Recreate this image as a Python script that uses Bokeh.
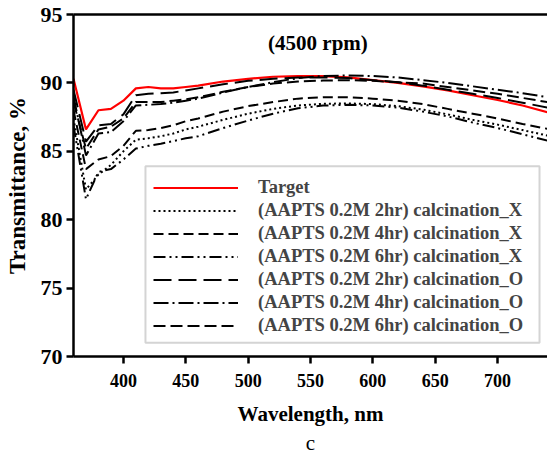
from bokeh.plotting import figure
from bokeh.models import (Range1d, FixedTicker, LinearAxis, Label, Legend, LegendItem, Title,
                          BoxAnnotation)
from bokeh.embed import file_html
from bokeh.resources import INLINE

wavelength = [360, 370, 380, 390, 400, 410, 420, 430, 440, 450, 460, 480, 500, 520, 540,
              560, 580, 600, 620, 640, 660, 680, 700, 720, 740]

target = [90.3, 86.6, 88.0, 88.1, 88.7, 89.6, 89.7, 89.6, 89.6, 89.7, 89.8, 90.1, 90.3, 90.45, 90.5,
          90.5, 90.4, 90.2, 90.0, 89.75, 89.45, 89.1, 88.75, 88.35, 87.85]

x_2hr = [87.4, 82.2, 83.3, 84.0, 85.0, 85.85, 85.95, 86.1, 86.3, 86.6, 86.8, 87.3, 87.75, 88.1, 88.35,
         88.47, 88.5, 88.45, 88.3, 88.05, 87.7, 87.3, 86.95, 86.55, 86.15]
x_4hr = [88.0, 83.7, 84.4, 84.65, 85.4, 86.5, 86.55, 86.7, 86.9, 87.2, 87.4, 87.9, 88.3, 88.6, 88.85,
         88.96, 88.95, 88.85, 88.7, 88.45, 88.1, 87.75, 87.4, 87.0, 86.64]
x_6hr = [86.9, 81.5, 83.5, 83.7, 84.4, 85.2, 85.4, 85.55, 85.75, 85.95, 86.1, 86.7, 87.25, 87.75, 88.15,
         88.34, 88.4, 88.35, 88.2, 87.9, 87.55, 87.1, 86.7, 86.25, 85.78]
o_2hr = [89.5, 85.7, 86.9, 87.0, 87.7, 89.1, 89.2, 89.25, 89.3, 89.45, 89.6, 89.9, 90.15, 90.3, 90.4,
         90.4, 90.35, 90.2, 90.05, 89.8, 89.5, 89.2, 88.9, 88.55, 88.2]
o_4hr = [89.0, 84.7, 86.3, 86.4, 87.2, 88.35, 88.4, 88.45, 88.55, 88.7, 88.85, 89.3, 89.7, 90.05, 90.35,
         90.5, 90.55, 90.5, 90.4, 90.2, 90.0, 89.75, 89.5, 89.25, 88.95]
o_6hr = [88.6, 85.2, 86.6, 86.8, 87.4, 88.6, 88.6, 88.6, 88.7, 88.8, 88.95, 89.35, 89.7, 89.95, 90.1,
         90.17, 90.2, 90.15, 90.05, 89.95, 89.7, 89.45, 89.2, 88.9, 88.6]

labels = ["Target",
          "(AAPTS 0.2M 2hr) calcination_X",
          "(AAPTS 0.2M 4hr) calcination_X",
          "(AAPTS 0.2M 6hr) calcination_X",
          "(AAPTS 0.2M 2hr) calcination_O",
          "(AAPTS 0.2M 4hr) calcination_O",
          "(AAPTS 0.2M 6hr) calcination_O"]
x_ticks = [400, 450, 500, 550, 600, 650, 700]
y_ticks = [70, 75, 80, 85, 90, 95]

FONT = "Liberation Serif"

p = figure(width=547, height=462, x_range=Range1d(360, 740), y_range=Range1d(70, 95),
           min_border_left=73, min_border_right=0, min_border_top=14, min_border_bottom=106,
           output_backend="svg", toolbar_location=None)
p.outline_line_color = None
p.xgrid.visible = False
p.ygrid.visible = False

for ax in (p.xaxis[0], p.yaxis[0]):
    ax.axis_line_width = 2.5
    ax.major_tick_line_width = 2.5
    ax.major_tick_in = 0
    ax.major_tick_out = 7
    ax.minor_tick_line_color = None
    ax.major_label_text_font = FONT
    ax.major_label_text_font_style = "bold"
    ax.major_label_text_color = "black"
    ax.axis_label_text_font = FONT
    ax.axis_label_text_font_style = "bold"
    ax.axis_label_text_color = "black"
p.xaxis.ticker = FixedTicker(ticks=x_ticks)
p.yaxis.ticker = FixedTicker(ticks=y_ticks)
p.xaxis.major_label_text_font_size = "18px"
p.yaxis.major_label_text_font_size = "22px"
p.xaxis.major_label_standoff = 10
p.yaxis.major_label_standoff = 4

p.xaxis.axis_label = "Wavelength, nm"
p.xaxis.axis_label_text_font_size = "21px"
p.xaxis.axis_label_standoff = 12
p.yaxis.axis_label = "Transmittance, %"
p.yaxis.axis_label_text_font_size = "23px"
p.yaxis.axis_label_standoff = 8

top = LinearAxis(ticker=FixedTicker(ticks=[]), axis_line_width=2.5,
                 major_tick_line_color=None, minor_tick_line_color=None,
                 major_label_text_font_size="0px")
p.add_layout(top, "above")

p.add_layout(Title(text="c", align="center", text_font=FONT, text_font_style="normal",
                   text_font_size="21px", text_color="black", standoff=0), "below")

styles = [
    dict(color="red", dash="solid", width=2.2),
    dict(color="black", dash="2 3", width=2),
    dict(color="black", dash="10 5", width=2),
    dict(color="black", dash="12 4 2 4 2 4", width=2),
    dict(color="black", dash="18 7", width=2),
    dict(color="black", dash="15 4 2 4", width=2),
    dict(color="black", dash="12 5", width=2),
]
series = [target, x_2hr, x_4hr, x_6hr, o_2hr, o_4hr, o_6hr]

renderers = []
for ys, st in zip(series, styles):
    r = p.line(wavelength, ys, line_color=st["color"], line_dash=st["dash"], line_width=st["width"])
    renderers.append(r)

# legend frame drawn separately so its right edge sits where the reference's does
p.add_layout(BoxAnnotation(left=417.7, right=733.6, bottom=71.0, top=83.9,
                           fill_color="white", fill_alpha=1.0,
                           line_color="#707070", line_width=2))

items = [LegendItem(label=lab, renderers=[r]) for lab, r in zip(labels, renderers)]
legend = Legend(items=items, location=(80, 19))
legend.label_text_font = FONT
legend.label_text_font_style = "bold"
legend.label_text_font_size = "18.5px"
legend.glyph_width = 85
legend.glyph_height = 23
legend.label_height = 23
legend.label_width = 200
legend.label_standoff = 20
legend.spacing = 0
legend.padding = 5
legend.margin = 0
legend.border_line_color = None
legend.background_fill_color = None
legend.background_fill_alpha = 0.0
p.add_layout(legend, "center")

p.add_layout(Label(x=556.0, y=92.9, text="(4500 rpm)", text_font=FONT, text_font_style="bold",
                   text_font_size="21px", text_align="center", text_baseline="middle",
                   text_color="black"))

open("out.html", "w").write(file_html(p, INLINE))
